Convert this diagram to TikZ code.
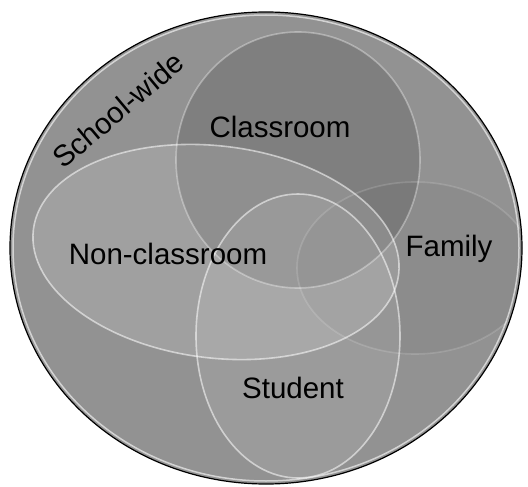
\documentclass[tikz,border=0pt]{standalone}
\usepackage{fontspec}
\setmainfont{Liberation Sans}
\usetikzlibrary{positioning}
\definecolor{swgray}{RGB}{146,146,146}

\begin{document}
\begin{tikzpicture}[x=1pt,y=-1pt,
      lbl/.style={font=\fontsize{29.5}{32}\selectfont,text=black,inner sep=0pt},
      rim/.style={draw=white,line width=1.6pt,draw opacity=.55}]
      \useasboundingbox (0,0) rectangle (528,487);
      \fill[swgray] (266,248) ellipse [x radius=256,y radius=236];
      \begin{scope}
        \clip (266,248) ellipse [x radius=256,y radius=236];
        % the four overlapping areas
        \fill[black,fill opacity=.13] (298,160) ellipse [x radius=122,y radius=128];
        \fill[black,fill opacity=.04] (415,268) ellipse [x radius=118,y radius=86];
        \fill[white,fill opacity=.13,rotate around={-7:(216,252)}] (216,252) ellipse [x radius=184,y radius=106];
        \fill[white,fill opacity=.09] (298,336) ellipse [x radius=102,y radius=142];
        \draw[rim,draw opacity=.35] (298,160) ellipse [x radius=122,y radius=128];
        \draw[rim,draw opacity=.15] (415,268) ellipse [x radius=118,y radius=86];
        \draw[rim,rotate around={-7:(216,252)}] (216,252) ellipse [x radius=184,y radius=106];
        \draw[rim] (298,336) ellipse [x radius=102,y radius=142];
      \end{scope}
      \draw[white,line width=1.5pt,draw opacity=.6] (266,248) ellipse [x radius=253,y radius=233];
      \draw[black,line width=1.2pt] (266,248) ellipse [x radius=256,y radius=236];
      \node[lbl,rotate=40] (school) at (118,110) {School-wide};
      \node[lbl] (class) at (280,127) {Classroom};
      \node[lbl] (nonclass) at (168,254) {Non-classroom};
      \node[lbl] (family) at (449,249) {Family};
      \node[lbl] (student) at (293,388) {Student};
    \end{tikzpicture}
\end{document}
